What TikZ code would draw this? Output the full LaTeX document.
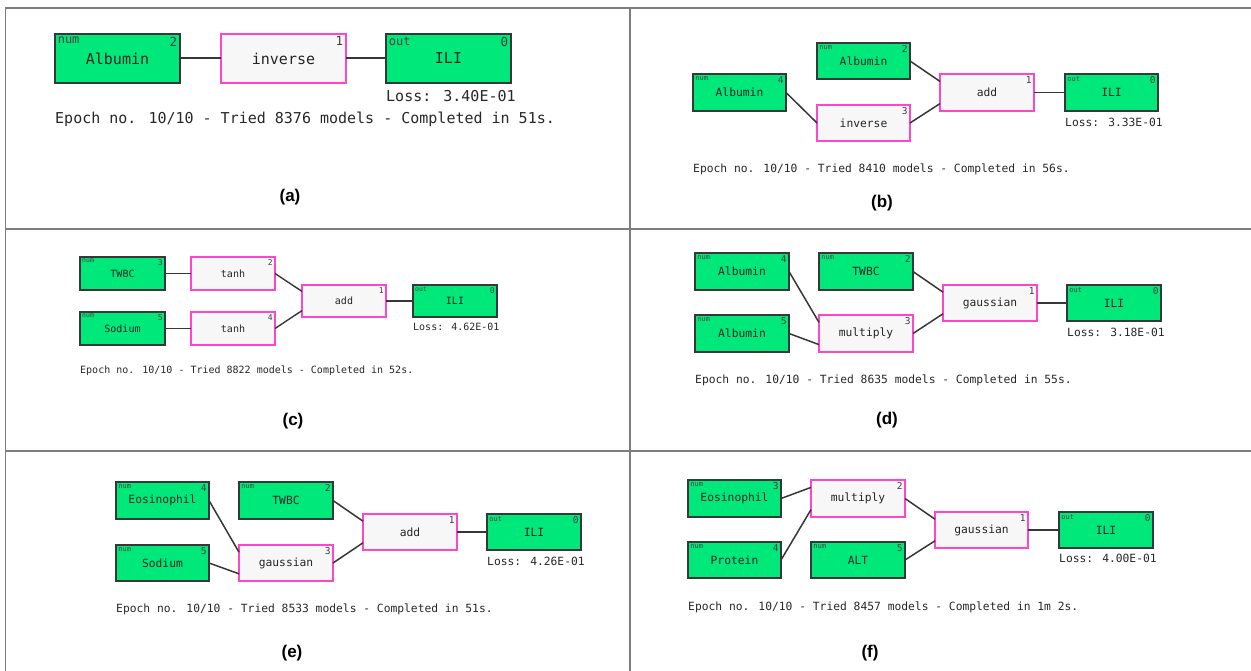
\documentclass[tikz,border=0pt]{standalone}
\usepackage{fontspec}
\newfontfamily\monof{DejaVu Sans Mono}
\newfontfamily\labf{Liberation Sans}
\usetikzlibrary{calc}
\definecolor{boxgreen}{RGB}{0,232,122}
\definecolor{oppink}{RGB}{255,70,200}
\definecolor{opfill}{RGB}{247,247,247}
\definecolor{framegray}{RGB}{125,125,125}
\definecolor{edgegray}{RGB}{55,55,55}
\definecolor{txtgray}{RGB}{40,40,40}
\def\mainfs{\fontsize{11.3}{13}\selectfont}
\def\smallfs{\fontsize{7}{8}\selectfont}
\def\numfs{\fontsize{9.5}{11}\selectfont}
\def\tagsep{2.2pt}
\def\bw{1.6pt}
\def\cw{1.5pt}
\tikzset{
  inbox/.style={rectangle, draw=edgegray, fill=boxgreen, line width=\bw, inner sep=0pt, outer sep=0pt, text=black!85},
  opbox/.style={rectangle, draw=oppink, fill=opfill, line width=\bw, inner sep=0pt, outer sep=0pt, text=black!85},
  tag/.style={inner sep=\tagsep, text=black!75},
  conn/.style={draw=edgegray, line width=\cw},
  framestyle/.style={draw=framegray, line width=1.6pt},
  panellabel/.style={inner sep=0pt, font=\labf\bfseries\fontsize{17}{20}\selectfont},
  info/.style={text=txtgray, inner sep=0pt}
}
\newcommand{\mkbox}[9]{%
  \node[#1, minimum width=#5pt, minimum height=#6pt, anchor=north west, font=\monof\mainfs] (#2) at (#3,#4) {#7};
  \node[tag, anchor=north west, font=\monof\smallfs] (#2t) at (#2.north west) {#8};
  \node[tag, anchor=north east, font=\monof\numfs] (#2n) at (#2.north east) {#9};
}
\newcommand{\upin}[1]{($(#1.north west)!0.2!(#1.south west)$)}
\newcommand{\lowin}[1]{($(#1.north west)!0.8!(#1.south west)$)}
\begin{document}
\begin{tikzpicture}[x=1pt,y=-1pt]
\useasboundingbox[fill=white] (0,0) rectangle (1251,671);
% frame
\draw[framestyle] (5,8) -- (1251,8);
\draw[framestyle] (5.5,8) -- (5.5,671);
\draw[framestyle] (630,8) -- (630,671);
\draw[framestyle] (5,229) -- (1251,229);
\draw[framestyle] (5,451) -- (1251,451);

% ---------- (a)
\begin{scope}
\def\mainfs{\fontsize{15}{18}\selectfont}
\def\smallfs{\fontsize{12}{14}\selectfont}
\def\numfs{\fontsize{12.5}{14}\selectfont}
\def\tagsep{2.6pt}
\def\bw{2pt}\def\cw{2pt}
\mkbox{inbox}{aA}{55}{34}{125}{49}{Albumin}{num}{2}
\mkbox{opbox}{aI}{221}{34}{125}{49}{inverse}{}{1}
\mkbox{inbox}{aO}{386}{34}{125}{49}{ILI}{out}{0}
\draw[conn] (aA.east) -- (aI.west);
\draw[conn] (aI.east) -- (aO.west);
\node[info, anchor=west, font=\monof\mainfs] (aL) at (386,96) {Loss: 3.40E-01};
\node[info, anchor=base west, font=\monof\mainfs] (aE) at (55,124) {Epoch no. 10/10 - Tried 8376 models - Completed in 51s.};
\node[panellabel] (aC) at (290,197) {(a)};
\end{scope}

% ---------- (b)
\begin{scope}
\mkbox{inbox}{bA4}{693}{74}{93}{37}{Albumin}{num}{4}
\mkbox{inbox}{bA2}{817}{43}{93}{36}{Albumin}{num}{2}
\mkbox{opbox}{bI}{817}{105}{93}{36}{inverse}{}{3}
\mkbox{opbox}{bD}{940}{74}{94}{37}{add}{}{1}
\mkbox{inbox}{bO}{1065}{74}{93}{37}{ILI}{out}{0}
\draw[conn] (bA4.east) -- (bI.west);
\draw[conn] (bA2.east) -- \upin{bD};
\draw[conn] (bI.east) -- \lowin{bD};
\draw[conn] (bD.east) -- (bO.west);
\node[info, anchor=west, font=\monof\mainfs] (bL) at (1065,122) {Loss: 3.33E-01};
\node[info, anchor=base west, font=\monof\mainfs] (bE) at (693,173) {Epoch no. 10/10 - Tried 8410 models - Completed in 56s.};
\node[panellabel] (bC) at (882,203) {(b)};
\end{scope}

% ---------- (c)
\begin{scope}
\def\mainfs{\fontsize{10}{12}\selectfont}
\def\smallfs{\fontsize{6.5}{8}\selectfont}
\def\numfs{\fontsize{8}{9}\selectfont}
\def\tagsep{2pt}
\def\bw{1.5pt}\def\cw{1.4pt}
\mkbox{inbox}{cT}{80}{257}{85}{33}{TWBC}{num}{3}
\mkbox{inbox}{cS}{80}{312}{85}{33}{Sodium}{num}{5}
\mkbox{opbox}{cH2}{191}{257}{84}{33}{tanh}{}{2}
\mkbox{opbox}{cH4}{191}{312}{84}{33}{tanh}{}{4}
\mkbox{opbox}{cD}{302}{285}{84}{32}{add}{}{1}
\mkbox{inbox}{cO}{413}{285}{84}{32}{ILI}{out}{0}
\draw[conn] (cT.east) -- (cH2.west);
\draw[conn] (cS.east) -- (cH4.west);
\draw[conn] (cH2.east) -- \upin{cD};
\draw[conn] (cH4.east) -- \lowin{cD};
\draw[conn] (cD.east) -- (cO.west);
\node[info, anchor=west, font=\monof\mainfs] (cL) at (413,327) {Loss: 4.62E-01};
\node[info, anchor=base west, font=\monof\mainfs] (cE) at (80,373.5) {Epoch no. 10/10 - Tried 8822 models - Completed in 52s.};
\node[panellabel] (cC) at (293,421) {(c)};
\end{scope}

% ---------- (d)
\begin{scope}
\mkbox{inbox}{dA4}{695}{253}{94}{37}{Albumin}{num}{4}
\mkbox{inbox}{dT}{819}{253}{94}{37}{TWBC}{num}{2}
\mkbox{inbox}{dA5}{695}{315}{94}{37}{Albumin}{num}{5}
\mkbox{opbox}{dM}{819}{315}{94}{37}{multiply}{}{3}
\mkbox{opbox}{dG}{943}{285}{94}{36}{gaussian}{}{1}
\mkbox{inbox}{dO}{1067}{285}{94}{36}{ILI}{out}{0}
\draw[conn] (dA4.east) -- \upin{dM};
\draw[conn] (dA5.east) -- \lowin{dM};
\draw[conn] (dT.east) -- \upin{dG};
\draw[conn] (dM.east) -- \lowin{dG};
\draw[conn] (dG.east) -- (dO.west);
\node[info, anchor=west, font=\monof\mainfs] (dL) at (1067,332) {Loss: 3.18E-01};
\node[info, anchor=base west, font=\monof\mainfs] (dE) at (695,383) {Epoch no. 10/10 - Tried 8635 models - Completed in 55s.};
\node[panellabel] (dC) at (887,420) {(d)};
\end{scope}

% ---------- (e)
\begin{scope}
\mkbox{inbox}{eE}{116}{482}{93}{37}{Eosinophil}{num}{4}
\mkbox{inbox}{eT}{239}{482}{94}{37}{TWBC}{num}{2}
\mkbox{inbox}{eS}{116}{545}{93}{36}{Sodium}{num}{5}
\mkbox{opbox}{eG}{239}{545}{94}{36}{gaussian}{}{3}
\mkbox{opbox}{eD}{363}{514}{94}{36}{add}{}{1}
\mkbox{inbox}{eO}{487}{514}{94}{36}{ILI}{out}{0}
\draw[conn] (eE.east) -- \upin{eG};
\draw[conn] (eS.east) -- \lowin{eG};
\draw[conn] (eT.east) -- \upin{eD};
\draw[conn] (eG.east) -- \lowin{eD};
\draw[conn] (eD.east) -- (eO.west);
\node[info, anchor=west, font=\monof\mainfs] (eL) at (487,561) {Loss: 4.26E-01};
\node[info, anchor=base west, font=\monof\mainfs] (eX) at (116,612) {Epoch no. 10/10 - Tried 8533 models - Completed in 51s.};
\node[panellabel] (eC) at (292,653) {(e)};
\end{scope}

% ---------- (f)
\begin{scope}
\mkbox{inbox}{fE}{688}{480}{93}{37}{Eosinophil}{num}{3}
\mkbox{opbox}{fM}{811}{480}{94}{37}{multiply}{}{2}
\mkbox{inbox}{fP}{688}{542}{93}{36}{Protein}{num}{4}
\mkbox{inbox}{fA}{811}{542}{94}{36}{ALT}{num}{5}
\mkbox{opbox}{fG}{935}{512}{93}{36}{gaussian}{}{1}
\mkbox{inbox}{fO}{1059}{512}{94}{36}{ILI}{out}{0}
\draw[conn] (fE.east) -- \upin{fM};
\draw[conn] (fP.east) -- \lowin{fM};
\draw[conn] (fM.east) -- \upin{fG};
\draw[conn] (fA.east) -- \lowin{fG};
\draw[conn] (fG.east) -- (fO.west);
\node[info, anchor=west, font=\monof\mainfs] (fL) at (1059,558) {Loss: 4.00E-01};
\node[info, anchor=base west, font=\monof\mainfs] (fX) at (688,610) {Epoch no. 10/10 - Tried 8457 models - Completed in 1m 2s.};
\node[panellabel] (fC) at (870,653) {(f)};
\end{scope}
\end{tikzpicture}
\end{document}
